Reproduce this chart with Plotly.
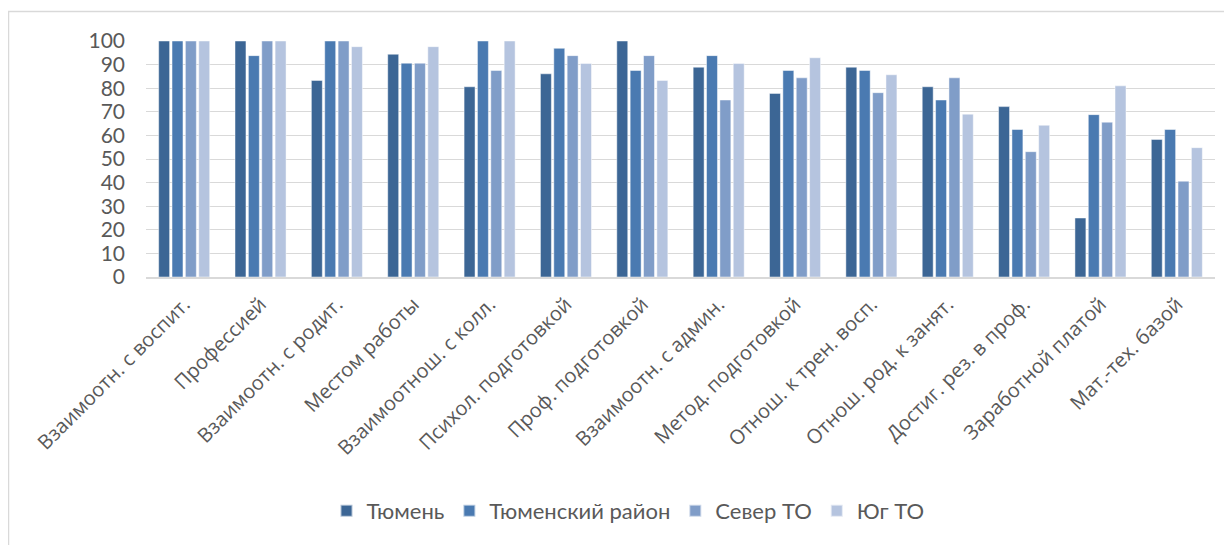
import plotly.graph_objects as go

categories = ["Взаимоотн. с воспит.", "Профессией", "Взаимоотн. с родит.", "Местом работы",
              "Взаимоотнош. с колл.", "Психол. подготовкой", "Проф. подготовкой",
              "Взаимоотн. с админ.", "Метод. подготовкой", "Отнош. к трен. восп.",
              "Отнош. род. к занят.", "Достиг. рез. в проф.", "Заработной платой",
              "Мат.-тех. базой"]

tyumen = [100, 100, 83.3, 94.4, 80.6, 86.1, 100, 88.9, 77.8, 88.9, 80.6, 72.2, 25.0, 58.3]
tyumen_rayon = [100, 93.8, 100, 90.6, 100, 96.9, 87.5, 93.8, 87.5, 87.5, 75.0, 62.5, 68.8, 62.5]
sever = [100, 100, 100, 90.6, 87.5, 93.8, 93.8, 75.0, 84.4, 78.1, 84.4, 53.1, 65.6, 40.6]
yug = [100, 100, 97.6, 97.6, 100, 90.5, 83.3, 90.5, 92.9, 85.7, 69.0, 64.3, 81.0, 54.8]

series_names = ["Тюмень", "Тюменский район", "Север ТО", "Юг ТО"]
series_values = [tyumen, tyumen_rayon, sever, yug]
colors = ["#3C6695", "#4A7AB1", "#809DC8", "#B5C4DF"]

fig = go.Figure()
for name, vals, col in zip(series_names, series_values, colors):
    fig.add_trace(go.Bar(x=categories, y=vals, name=name,
                         marker=dict(color=col, line=dict(color="rgba(255,255,255,0.6)", width=0.8))))

# page has an 8px body margin; work in figure coordinates
OFF = 8
FW, FH = 1232 - OFF, 545 - OFF
L, R, T, B = 146 - OFF, 1215 - OFF, 41 - OFF, 277 - OFF
W, H = R - L, B - T

def px(x):
    return (x - OFF - L) / W

def py(y):
    return (B - (y - OFF)) / H

fig.update_layout(
    width=FW, height=FH,
    margin=dict(l=L, r=FW - R, t=T, b=FH - B),
    paper_bgcolor="white", plot_bgcolor="white",
    barmode="group", bargap=0.3, bargroupgap=0.18,
    font=dict(family="Open Sans", color="#595959"),
    showlegend=True,
    legend=dict(orientation="h", x=px(628), xanchor="center", y=py(511), yanchor="middle",
                font=dict(family="Lato", size=22, color="#595959"),
                itemsizing="constant", traceorder="normal", itemwidth=30),
    xaxis=dict(tickangle=-45, tickfont=dict(family="Open Sans", size=20, color="#595959"),
               showgrid=False, showline=True, linecolor="#d9d9d9", linewidth=1.5,
               ticks="", ticklabelstandoff=6, fixedrange=True),
    yaxis=dict(range=[0, 100], dtick=10, tickfont=dict(family="Lato", size=21, color="#595959"),
               showgrid=True, gridcolor="#d9d9d9", gridwidth=1.3, zeroline=False,
               showline=False, ticks="", ticklabelstandoff=20, fixedrange=True),
    shapes=[dict(type="rect", xref="paper", yref="paper",
                 x0=px(8.5), x1=px(1250), y0=py(570), y1=py(11.5),
                 line=dict(color="#d9d9d9", width=1.5), fillcolor="rgba(0,0,0,0)", layer="below")],
)

fig.write_html("out.html")
